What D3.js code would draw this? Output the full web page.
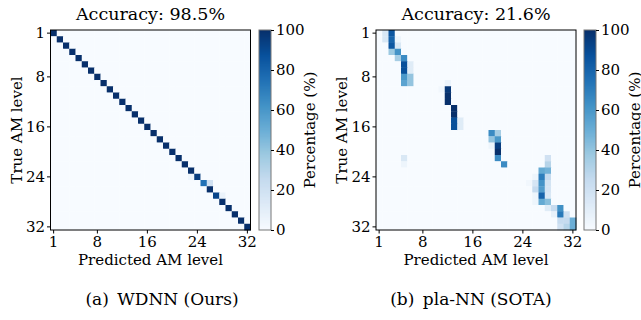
<!DOCTYPE html>
<html>
<head>
<meta charset="utf-8">
<script src="https://cdn.jsdelivr.net/npm/d3@7"></script>
<style>
  body { margin: 0; background: #fff; }
</style>
</head>
<body>
<div id="chart"></div>
<script>
// AM levels 1..32 on both axes
const levels = d3.range(1, 33);
const tickLevels = [1, 8, 16, 24, 32];
const cbarTicks = [0, 20, 40, 60, 80, 100];

// WDNN (Ours): diagonal percentages, true level 1..32
const wdnnDiag = [100, 100, 100, 100, 100, 100, 100, 100, 100, 100, 100, 100, 100, 100, 100, 100,
                  100, 100, 100, 100, 100, 100, 100, 95, 75, 100, 92, 100, 100, 100, 100, 100];
// off-diagonal cells: [true, predicted, %]
const wdnnOff = [[24, 23, 5], [25, 26, 20], [27, 28, 6]];

// pla-NN (SOTA): [true, predicted, %]
const plaCells = [
  [1, 2, 15], [1, 3, 85],
  [2, 2, 15], [2, 3, 80], [2, 4, 5],
  [3, 3, 85], [3, 4, 15],
  [4, 3, 38], [4, 4, 62],
  [5, 4, 35], [5, 5, 65],
  [6, 5, 88], [6, 6, 12],
  [7, 5, 88], [7, 6, 12],
  [8, 5, 60], [8, 6, 40],
  [9, 5, 55], [9, 6, 40], [9, 12, 6],
  [10, 11, 3], [10, 12, 97],
  [11, 12, 100],
  [12, 12, 100],
  [13, 13, 100],
  [14, 13, 100],
  [15, 13, 88], [15, 14, 12],
  [16, 13, 88], [16, 14, 12],
  [17, 19, 65], [17, 20, 35],
  [18, 19, 40], [18, 20, 60],
  [19, 19, 5], [19, 20, 95],
  [20, 20, 100],
  [21, 5, 15], [21, 20, 65], [21, 28, 20],
  [22, 5, 5], [22, 21, 65], [22, 28, 30],
  [23, 27, 52], [23, 28, 48],
  [24, 26, 5], [24, 27, 70], [24, 28, 25],
  [25, 25, 3], [25, 26, 17], [25, 27, 62], [25, 28, 18],
  [26, 26, 25], [26, 27, 58], [26, 28, 17],
  [27, 26, 5], [27, 27, 80], [27, 28, 15],
  [28, 26, 5], [28, 27, 52], [28, 28, 43],
  [29, 28, 12], [29, 29, 25], [29, 30, 63],
  [30, 29, 8], [30, 30, 72], [30, 31, 20],
  [31, 30, 25], [31, 31, 25], [31, 32, 50],
  [32, 30, 20], [32, 31, 30], [32, 32, 50]
];

const titles = ["Accuracy: 98.5%", "Accuracy: 21.6%"];
const captions = ["(a)\u2002WDNN (Ours)", "(b)\u2002pla-NN (SOTA)"];

// only serif face available in the sandbox
const serif = "'DejaVu Serif', serif";

function buildMatrix(cells) {
  const m = levels.map(() => levels.map(() => 0));
  cells.forEach(([t, p, v]) => { m[t - 1][p - 1] = v; });
  const out = [];
  levels.forEach((t, i) => levels.forEach((p, j) => out.push({ t, p, v: m[i][j] })));
  return out;
}

const wdnnData = buildMatrix(wdnnDiag.map((v, i) => [i + 1, i + 1, v]).concat(wdnnOff));
const plaData = buildMatrix(plaCells);

// matplotlib "Blues" is a linear ramp through these 9 stops
const color = d3.scaleLinear()
  .domain(d3.range(9).map(i => i * 100 / 8))
  .range(d3.schemeBlues[9])
  .clamp(true);

const width = 641, height = 320;
const svg = d3.select("#chart").append("svg")
  .attr("width", width)
  .attr("height", height)
  .style("display", "block");

const panels = [
  { data: wdnnData, x0: 50.5, cbX: 259, capX: 162, ylabX: 22 },
  { data: plaData, x0: 376, cbX: 584, capX: 471, ylabX: 347 }
];
const y0 = 30, size = 200, cbW = 12;

function label(sel, fs) {
  return sel.style("font-family", serif).style("font-size", fs + "px").attr("fill", "#000");
}

panels.forEach((pn, k) => {
  const g = svg.append("g");

  const x = d3.scaleBand().domain(levels).range([pn.x0, pn.x0 + size]);
  const y = d3.scaleBand().domain(levels).range([y0, y0 + size]);

  g.selectAll("rect.cell")
    .data(pn.data)
    .join("rect")
    .attr("class", "cell")
    .attr("x", d => x(d.p))
    .attr("y", d => y(d.t))
    .attr("width", x.bandwidth() + 0.4)
    .attr("height", y.bandwidth() + 0.4)
    .attr("fill", d => color(d.v));

  // frame
  g.append("rect")
    .attr("x", pn.x0)
    .attr("y", y0)
    .attr("width", size)
    .attr("height", size)
    .attr("fill", "none")
    .attr("stroke", "#000")
    .attr("stroke-width", 1);

  const xAxis = g.append("g")
    .attr("transform", `translate(0,${y0 + size})`)
    .call(d3.axisBottom(x).tickValues(tickLevels).tickSize(3.5).tickPadding(2.5));
  const yAxis = g.append("g")
    .attr("transform", `translate(${pn.x0},0)`)
    .call(d3.axisLeft(y).tickValues(tickLevels).tickSize(3.5).tickPadding(2));
  [xAxis, yAxis].forEach(a => {
    a.select(".domain").remove();
    label(a.selectAll("text"), 15);
    a.selectAll("line").attr("stroke", "#000");
  });

  label(g.append("text"), 17.5)
    .attr("x", pn.x0 + size / 2)
    .attr("y", 20)
    .attr("text-anchor", "middle")
    .text(titles[k]);

  label(g.append("text"), 15)
    .attr("x", pn.x0 + size / 2)
    .attr("y", 265)
    .attr("text-anchor", "middle")
    .text("Predicted AM level");

  label(g.append("text"), 15)
    .attr("transform", `translate(${pn.ylabX},${y0 + size / 2}) rotate(-90)`)
    .attr("text-anchor", "middle")
    .text("True AM level");

  // colorbar
  const cy = d3.scaleLinear().domain([0, 100]).range([y0 + size, y0]);
  const steps = d3.range(0, 100, 0.5);
  g.selectAll("rect.cb")
    .data(steps)
    .join("rect")
    .attr("class", "cb")
    .attr("x", pn.cbX)
    .attr("y", d => cy(d + 0.5))
    .attr("width", cbW)
    .attr("height", cy(0) - cy(0.5) + 0.3)
    .attr("fill", d => color(d + 0.25));
  g.append("rect")
    .attr("x", pn.cbX)
    .attr("y", y0)
    .attr("width", cbW)
    .attr("height", size)
    .attr("fill", "none")
    .attr("stroke", "#777")
    .attr("stroke-width", 1);

  const cAxis = g.append("g")
    .attr("transform", `translate(${pn.cbX + cbW},0)`)
    .call(d3.axisRight(cy).tickValues(cbarTicks).tickSize(3).tickPadding(2));
  cAxis.select(".domain").remove();
  label(cAxis.selectAll("text"), 15);
  cAxis.selectAll("line").attr("stroke", "#000");

  label(g.append("text"), 15)
    .attr("transform", `translate(${pn.cbX + 56},${y0 + size / 2}) rotate(-90)`)
    .attr("text-anchor", "middle")
    .text("Percentage (%)");

  label(g.append("text"), 17)
    .attr("x", pn.capX)
    .attr("y", 305)
    .attr("text-anchor", "middle")
    .text(captions[k]);
});
</script>
</body>
</html>
